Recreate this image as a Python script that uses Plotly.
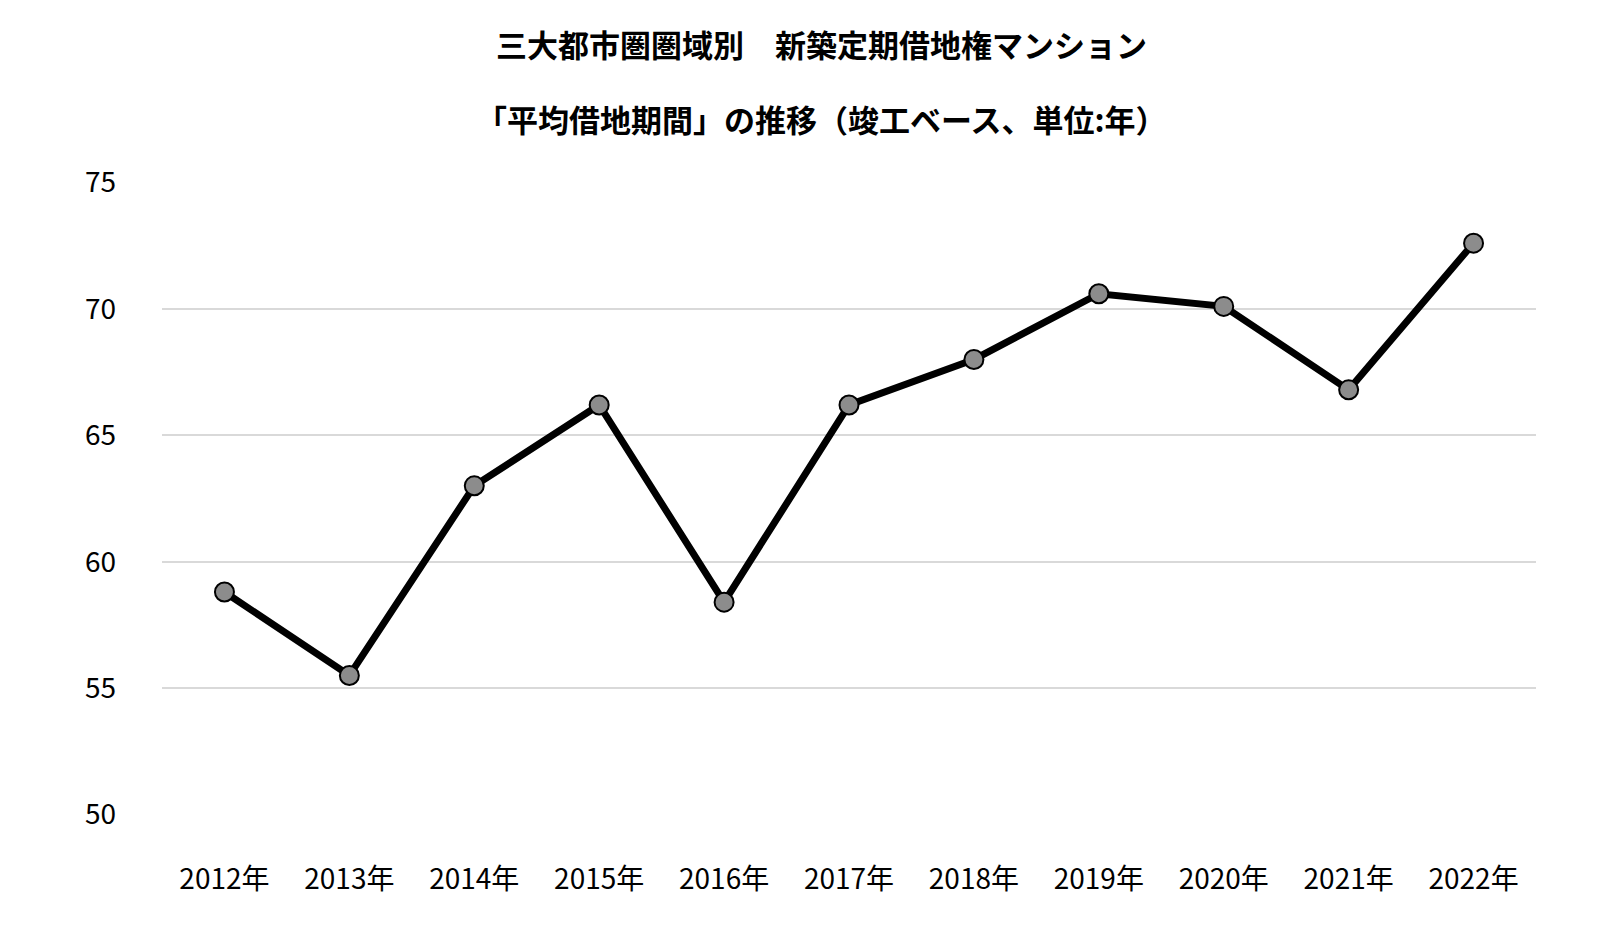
import plotly.graph_objects as go

years = ["2012年","2013年","2014年","2015年","2016年","2017年","2018年","2019年","2020年","2021年","2022年"]
values = [58.8, 55.5, 63.0, 66.2, 58.4, 66.2, 68.0, 70.6, 70.1, 66.8, 72.6]
title_lines = ["三大都市圏圏域別　新築定期借地権マンション", "「平均借地期間」の推移（竣工ベース、単位:年）"]

font = "Noto Sans CJK JP"
fig = go.Figure(go.Scatter(
    x=years, y=values, mode="lines+markers",
    line=dict(color="black", width=7),
    marker=dict(size=19, color="#8c8c8c", line=dict(color="black", width=2)),
    cliponaxis=False,
))
for i, t in enumerate(title_lines):
    fig.add_annotation(text="<b>"+t+"</b>", xref="paper", yref="paper", x=0.48, xanchor="center",
                       y=1 + (138 - 75*i) / 633, yanchor="middle", showarrow=False,
                       font=dict(family=font, size=31, color="black"))
fig.update_layout(
    width=1609, height=931, plot_bgcolor="white", paper_bgcolor="white",
    margin=dict(l=154, r=81, t=174, b=124),
    xaxis=dict(type="category", range=[-0.5, 10.5], showgrid=False, showline=False,
               tickfont=dict(family=font, size=28, color="black"), ticks="", ticklabelstandoff=45),
    yaxis=dict(range=[49.98, 75.02], tickvals=[50, 55, 60, 65, 70, 75], showgrid=True, gridcolor="#d9d9d9", gridwidth=2,
               zeroline=False, showline=False, ticks="", ticklabelstandoff=45,
               tickfont=dict(family=font, size=28, color="black")),
    showlegend=False,
)
fig.write_html("out.html")
